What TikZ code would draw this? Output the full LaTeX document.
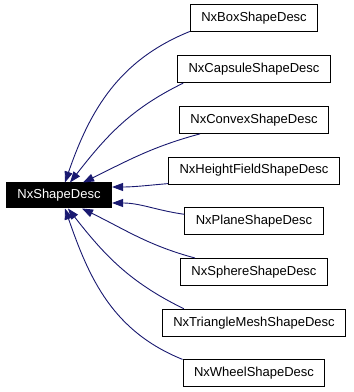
\documentclass[tikz,border=0pt]{standalone}
\usepackage{fontspec}
\setmainfont{Liberation Sans}
\usetikzlibrary{positioning}
\usetikzlibrary{arrows.meta,calc}

\definecolor{edgeblue}{HTML}{191970}

\tikzset{
  cls/.style={draw=black, fill=white, line width=1pt, minimum height=27pt,
    inner xsep=11pt, font=\fontsize{13}{15}\selectfont},
  basecls/.style={cls, fill=black, text=white, minimum height=25pt},
  inherit/.style={draw=edgeblue, line width=0.9pt,
    -{Triangle[length=11pt,width=8pt]}}
}

\begin{document}
\begin{tikzpicture}[x=1pt,y=1pt]
 \useasboundingbox (0,0) rectangle (354,392);

 % base class
 \node[basecls] (base) at (59, 392-195.5) {NxShapeDesc};

 % derived classes, one per row
 \foreach \i/\name in {0/Box, 1/Capsule, 2/Convex, 3/HeightField,
                       4/Plane, 5/Sphere, 6/TriangleMesh, 7/Wheel} {
   \node[cls] (\name) at (254, 392-18.5-\i*50.7) {Nx\name ShapeDesc};
 }

 % upper ones come in on top
 \draw[inherit] ($(Box.south west)+(0,1)$) to[out=202,in=71] ($(base.north)+(6,0)$);
 \draw[inherit] ($(Capsule.south west)+(6,0)$) to[out=206,in=52] ($(base.north)+(11,0)$);
 \draw[inherit] ($(Convex.south west)+(21,0)$) to[out=195,in=26] ($(base.north)+(24,0)$);
 % middle ones on the right side
 \draw[inherit] ($(HeightField.south west)+(0,1)$) to[out=185,in=0] ($(base.east)+(0,8.5)$);
 \draw[inherit] ($(Plane.west)+(0,7)$) to[out=172,in=0] ($(base.east)+(0,-7.5)$);
 % lower ones on the bottom
 \draw[inherit] ($(Sphere.north west)+(15,0)$) to[out=165,in=-26] ($(base.south)+(23,0)$);
 \draw[inherit] ($(TriangleMesh.north west)+(22,0)$) to[out=154,in=-52] ($(base.south)+(9,0)$);
 \draw[inherit] (Wheel.north west) to[out=158,in=-71] ($(base.south)+(6,0)$);

\end{tikzpicture}
\end{document}
